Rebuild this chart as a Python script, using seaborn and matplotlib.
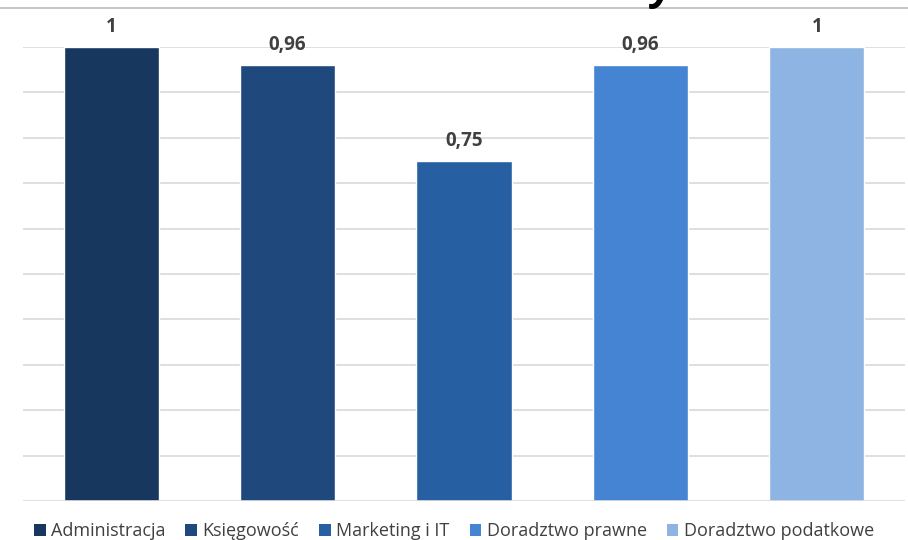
import matplotlib
matplotlib.use("Agg")
import matplotlib.pyplot as plt
from matplotlib.lines import Line2D
from matplotlib.patches import Patch
import seaborn as sns
import pandas as pd

categories = ["Administracja", "Księgowość", "Marketing i IT", "Doradztwo prawne", "Doradztwo podatkowe"]
values = [1.0, 0.96, 0.75, 0.96, 1.0]
labels = ["1", "0,96", "0,75", "0,96", "1"]
colors = ["#17375E", "#1F497D", "#2660A3", "#4584D3", "#8EB4E3"]

df = pd.DataFrame({"kategoria": categories, "wartosc": values})

sns.set_theme(style="white")
plt.rcParams["font.family"] = ["Open Sans", "DejaVu Sans"]

fig = plt.figure(figsize=(9.08, 5.4), dpi=100)
ax = fig.add_axes([23 / 908, 1 - 501 / 540, 882 / 908, 454 / 540])

sns.barplot(data=df, x="kategoria", y="wartosc", hue="kategoria",
            palette=colors, width=0.54, legend=False, saturation=1, ax=ax)

ax.set_ylim(0, 1.0)
ax.set_xlim(-0.5, 4.5)
for v in [i / 10 for i in range(1, 11)]:
    ax.axhline(v, color="#D9D9D9", lw=1.2, zorder=0)
ax.axhline(0, color="#D9D9D9", lw=1.2, zorder=3)
ax.set_yticks([])
ax.set_xticks([])
ax.set_xlabel("")
ax.set_ylabel("")
for s in ax.spines.values():
    s.set_visible(False)
ax.set_axisbelow(True)

for i, (v, lab) in enumerate(zip(values, labels)):
    ax.annotate(lab, (i, v), xytext=(0, 7), textcoords="offset points",
                ha="center", va="bottom", fontsize=13.5, fontweight="bold",
                color="#404040", annotation_clip=False)

# header rule and the tail of the title above the plot
fig.add_artist(Line2D([0, 1], [1 - 8 / 540, 1 - 8 / 540], color="#BFBFBF", lw=1.3,
                      transform=fig.transFigure))
fig.text(652 / 908, 1 + 1 / 540, "y", fontsize=30, fontweight="bold", fontstyle="italic",
         color="black", ha="left", va="baseline")

handles = [Patch(facecolor=c, edgecolor="none") for c in colors]
fig.legend(handles, categories, loc="center", bbox_to_anchor=(0.5, 1 - 531 / 540),
           ncol=5, frameon=False, fontsize=13, handlelength=0.65, handleheight=0.65,
           handletextpad=0.3, columnspacing=1.1, labelcolor="#404040")

fig.savefig("out.png", dpi=100)
